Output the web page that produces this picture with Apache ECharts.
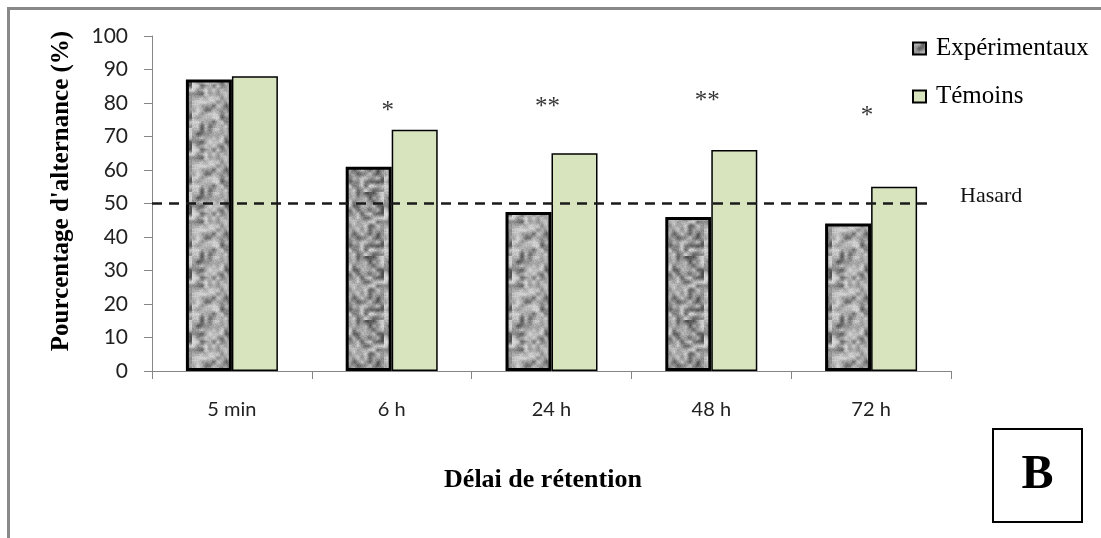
<!DOCTYPE html>
<html>
<head>
<meta charset="utf-8">
<script src="https://cdn.jsdelivr.net/npm/echarts@6/dist/echarts.min.js"></script>
<style>
html,body{margin:0;padding:0;background:#fff;}
#chart{width:1101px;height:538px;}
</style>
</head>
<body>
<div id="chart"></div>
<script>
// ---- data ----
const categories = ['5 min', '6 h', '24 h', '48 h', '72 h'];
const experimentaux = [87, 61, 47.5, 46, 44];
const temoins = [88, 72, 65, 66, 55];
const hasardLevel = 50;
const sigLabels = ['*', '**', '**', '*'];
const sigCategories = ['6 h', '24 h', '48 h', '72 h'];
const sigValues = [77.4, 78.6, 80.4, 75.9];
const yTicks = {min: 0, max: 100, interval: 10};

// ---- grey mottled texture (style only) ----
function makeTexture() {
  let seed = 98765;
  const rnd = () => { seed = (seed * 1103515245 + 12345) % 2147483648; return seed / 2147483648; };
  const N = 16, S = 64;
  const small = document.createElement('canvas');
  small.width = N; small.height = N;
  const sc = small.getContext('2d');
  const img = sc.createImageData(N, N);
  for (let i = 0; i < N * N; i++) {
    const r = rnd();
    const v = Math.round(r < 0.25 ? 80 + rnd() * 40 : 135 + rnd() * 85);
    img.data[i*4] = v; img.data[i*4+1] = v; img.data[i*4+2] = v; img.data[i*4+3] = 255;
  }
  sc.putImageData(img, 0, 0);
  const tmp = document.createElement('canvas');
  tmp.width = S * 3; tmp.height = S * 3;
  const tc = tmp.getContext('2d');
  tc.imageSmoothingEnabled = true;
  for (let a = 0; a < 3; a++) for (let b = 0; b < 3; b++) tc.drawImage(small, a * S, b * S, S, S);
  const big = document.createElement('canvas');
  big.width = S; big.height = S;
  const bc = big.getContext('2d');
  bc.drawImage(tmp, S, S, S, S, 0, 0, S, S);
  const d = bc.getImageData(0, 0, S, S);
  for (let i = 0; i < S * S; i++) {
    const n = (rnd() - 0.5) * 26;
    for (let k = 0; k < 3; k++) d.data[i*4+k] = Math.max(0, Math.min(255, d.data[i*4+k] + n));
  }
  bc.putImageData(d, 0, 0);
  return big;
}
const texture = makeTexture();

const chart = echarts.init(document.getElementById('chart'), null, {renderer: 'canvas'});
const axisGrey = '#868686';
const serif = '"Liberation Serif", "Times New Roman", serif';
const sans = 'Lato, "Open Sans", sans-serif';

chart.setOption({
  animation: false,
  backgroundColor: '#fff',
  grid: {left: 152, right: 150, top: 36, bottom: 167, containLabel: false},
  legend: {
    orient: 'vertical',
    left: 912, top: 35,
    itemWidth: 13, itemHeight: 12, itemGap: 21,
    padding: 0,
    icon: 'rect',
    textStyle: {fontFamily: serif, fontSize: 25, color: '#000', padding: [0, 0, 0, 5], lineHeight: 27},
    data: ['Expérimentaux', 'Témoins']
  },
  xAxis: {
    type: 'category',
    data: categories,
    axisLine: {lineStyle: {color: axisGrey, width: 1}},
    axisTick: {show: true, length: 8, interval: 0, lineStyle: {color: axisGrey}},
    axisLabel: {fontFamily: sans, fontSize: 20, color: '#222', margin: 29, interval: 0},
    splitLine: {show: false}
  },
  yAxis: {
    type: 'value',
    min: yTicks.min, max: yTicks.max, interval: yTicks.interval,
    axisLine: {show: true, lineStyle: {color: axisGrey, width: 1}},
    axisTick: {show: true, length: 8, lineStyle: {color: axisGrey}},
    axisLabel: {fontFamily: sans, fontSize: 21, color: '#222', margin: 24},
    splitLine: {show: false}
  },
  series: [
    {
      name: 'Expérimentaux',
      type: 'bar',
      data: experimentaux,
      barWidth: 46,
      barGap: '0%',
      itemStyle: {color: {image: texture, repeat: 'repeat'}, borderColor: '#000', borderWidth: 3},
      z: 2
    },
    {
      name: 'Témoins',
      type: 'bar',
      data: temoins,
      barWidth: 46,
      barGap: '0%',
      itemStyle: {color: '#d7e4bd', borderColor: '#000', borderWidth: 1.5},
      z: 2,
      markLine: {
        silent: true,
        symbol: ['none', 'none'],
        lineStyle: {color: '#1a1a1a', width: 2.5, type: [10, 7]},
        label: {show: false},
        data: [[{yAxis: hasardLevel, x: 152}, {yAxis: hasardLevel, x: 928}]],
        z: 5
      }
    },
    {
      name: 'sig',
      type: 'scatter',
      data: sigCategories.map((c, i) => [c, sigValues[i]]),
      symbolSize: 1,
      itemStyle: {color: 'rgba(0,0,0,0)'},
      label: {
        show: true, position: 'inside', offset: [-4, 0],
        formatter: p => sigLabels[p.dataIndex],
        fontFamily: serif, fontSize: 25, color: '#000'
      },
      silent: true,
      z: 6
    }
  ],
  graphic: [
    {type: 'rect', shape: {x: 8.5, y: 8.5, width: 1200, height: 700}, style: {fill: 'none', stroke: '#888', lineWidth: 3}, silent: true},
    {type: 'text', x: 960, y: 196,
     style: {text: 'Hasard', font: '22px ' + serif, fill: '#111', align: 'left', verticalAlign: 'middle'}},
    {type: 'text', x: 62, y: 191, rotation: Math.PI / 2,
     style: {text: "Pourcentage d'alternance (%)", font: 'bold 25px ' + serif, fill: '#000', align: 'center', verticalAlign: 'middle'}},
    {type: 'text', x: 543, y: 480,
     style: {text: 'Délai de rétention', font: 'bold 26px ' + serif, fill: '#000', align: 'center', verticalAlign: 'middle'}},
    {type: 'rect', shape: {x: 993, y: 429, width: 89, height: 93}, style: {fill: '#fff', stroke: '#000', lineWidth: 2}},
    {type: 'text', x: 1037.5, y: 476,
     style: {text: 'B', font: 'bold 48px ' + serif, fill: '#000', align: 'center', verticalAlign: 'middle'}}
  ]
});
</script>
</body>
</html>
